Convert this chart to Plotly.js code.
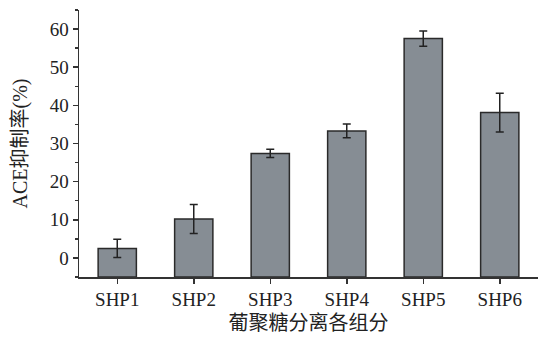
<!DOCTYPE html>
<html>
<head>
<meta charset="utf-8">
<script src="https://cdn.plot.ly/plotly-3.0.1.min.js"></script>
<style>
  html, body { margin: 0; padding: 0; background: #fff; }
  #chart { width: 547px; height: 339px; }
</style>
</head>
<body>
<div id="chart"></div>
<script>
// Dextran fractions and their ACE inhibition (%), mean ± error
const fractions = ['SHP1', 'SHP2', 'SHP3', 'SHP4', 'SHP5', 'SHP6'];
const inhibition = [2.5, 10.2, 27.4, 33.3, 57.5, 38.1];
const inhibitionErr = [2.4, 3.8, 1.1, 1.8, 2.0, 5.1];
const yTickValues = [0, 10, 20, 30, 40, 50, 60];
const yRange = [-5, 65];

const serif = 'Liberation Serif, Times New Roman, Noto Sans CJK SC, serif';

// Bars rise from the bottom of the axis frame up to each value
const bars = {
  type: 'bar',
  x: fractions,
  y: inhibition.map(v => v - yRange[0]),
  base: yRange[0],
  width: 0.5,
  marker: {
    color: '#868d94',
    line: { color: '#2a2a2a', width: 1.5 }
  },
  hoverinfo: 'skip'
};

// Error bars drawn at each bar's value
const errors = {
  type: 'scatter',
  mode: 'markers',
  x: fractions,
  y: inhibition,
  marker: { size: 1, opacity: 0 },
  error_y: {
    type: 'data',
    array: inhibitionErr,
    visible: true,
    color: '#222222',
    thickness: 1.5,
    width: 4
  },
  hoverinfo: 'skip'
};

const layout = {
  width: 547,
  height: 339,
  margin: { l: 79, r: 9, t: 10, b: 62 },
  paper_bgcolor: '#ffffff',
  plot_bgcolor: '#ffffff',
  showlegend: false,
  font: { family: serif, color: '#222222', size: 19 },
  xaxis: {
    type: 'category',
    range: [-0.5, 5.5],
    showgrid: false,
    zeroline: false,
    showline: true,
    linecolor: '#333333',
    linewidth: 1.5,
    ticks: 'outside',
    ticklen: 5,
    tickwidth: 1.5,
    tickcolor: '#333333',
    tickfont: { family: serif, size: 19, color: '#222222' },
    title: {
      text: '葡聚糖分离各组分',
      font: { family: serif, size: 20, color: '#222222' },
      standoff: 6
    }
  },
  yaxis: {
    range: yRange,
    tickvals: yTickValues,
    showgrid: false,
    zeroline: false,
    showline: true,
    linecolor: '#333333',
    linewidth: 1.5,
    ticks: 'outside',
    ticklen: 5,
    tickwidth: 1.5,
    tickcolor: '#333333',
    tickfont: { family: serif, size: 19, color: '#222222' },
    minor: {
      dtick: 5,
      tick0: 5,
      ticks: 'outside',
      ticklen: 3,
      tickwidth: 1.5,
      tickcolor: '#333333',
      showgrid: false
    },
    title: {
      text: 'ACE抑制率(%)',
      font: { family: serif, size: 20, color: '#222222' },
      standoff: 16
    }
  }
};

Plotly.newPlot('chart', [bars, errors], layout, { displayModeBar: false, staticPlot: true });
</script>
</body>
</html>
